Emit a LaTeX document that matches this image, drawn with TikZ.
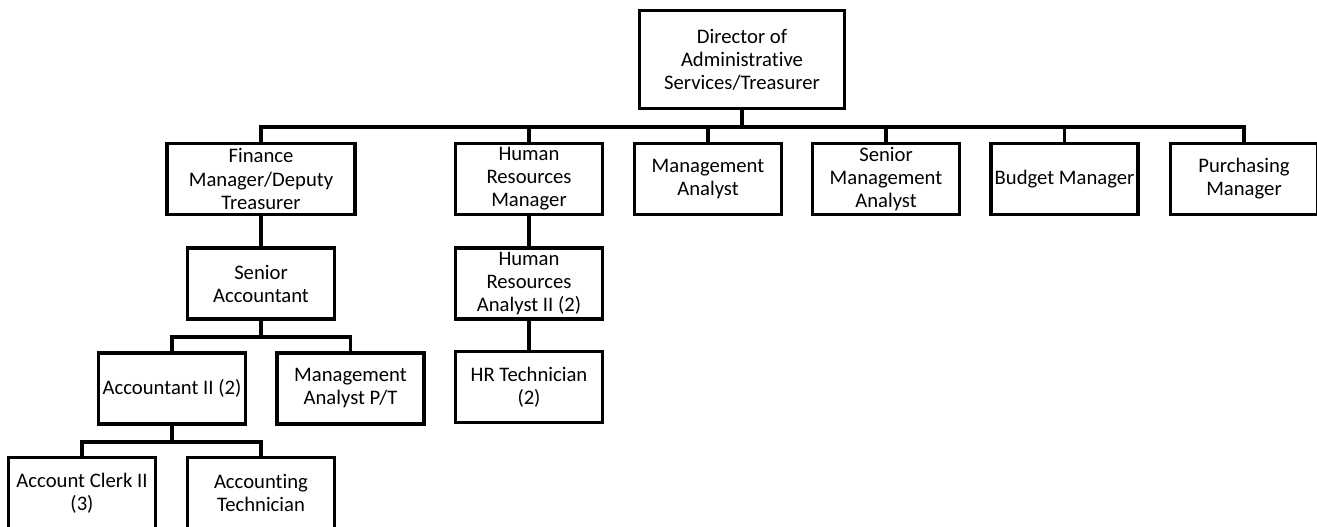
\documentclass[tikz,border=0pt]{standalone}
\usepackage{fontspec}
\setmainfont{Carlito}[Ligatures=NoCommon]
\begin{document}
\begin{tikzpicture}[x=0.75pt,y=-0.75pt]
            \tikzstyle{post}=[rectangle, draw=black, line width=2.6pt, align=center, minimum width=110pt, minimum height=53pt, inner sep=1pt, font=\fontsize{15.5}{17.3}\selectfont]
            \tikzstyle{connect}=[line width=2.6pt]
            \useasboundingbox (0,0) rectangle (1317,527);
            {\node[post, minimum width=154pt, minimum height=73.5pt] (dir) at (742,59.5){Director of\\Administrative\\Services/Treasurer};
            \node[post, minimum width=141pt] (fin) at (261,179){Finance\\Manager/Deputy\\Treasurer};
            \node[post] (hr) at (529,179){Human\\Resources\\Manager};
            \node[post] (ma) at (708,179){Management\\Analyst};
            \node[post] (sma) at (886,179){Senior\\Management\\Analyst};
            \node[post] (bud) at (1064.5,179){Budget Manager};
            \node[post] (pur) at (1244,179){Purchasing\\Manager};
            \node[post] (sa) at (261,283.5){Senior\\Accountant};
            \node[post] (hra) at (529,283.5){Human\\Resources\\Analyst II (2)};
            \node[post] (acc) at (172,388.5){Accountant II (2)};
            \node[post] (mapt) at (350.5,388.5){Management\\Analyst P/T};
            \node[post] (hrt) at (529,387){HR Technician\\(2)};
            \node[post] (clerk) at (82,493){Account Clerk II\\(3)};
            \node[post] (tech) at (261,493){Accounting\\Technician};}
            \coordinate (b1) at (742,127);
            \coordinate (b2) at (261,337);
            \coordinate (b3) at (172,442);
            \path (dir.south) edge [connect] (b1);
            \foreach \n in {fin,hr,ma,sma,bud,pur}
                \draw[connect] (b1) -| (\n.north);
            \path (fin) edge [connect] (sa);
            \path (hr) edge [connect] (hra);
            \path (hra) edge [connect] (hrt);
            \path (sa.south) edge [connect] (b2);
            \draw[connect] (b2) -| (acc.north);
            \draw[connect] (b2) -| (mapt.north);
            \path (acc.south) edge [connect] (b3);
            \draw[connect] (b3) -| (clerk.north);
            \draw[connect] (b3) -| (tech.north);
        \end{tikzpicture}
\end{document}
